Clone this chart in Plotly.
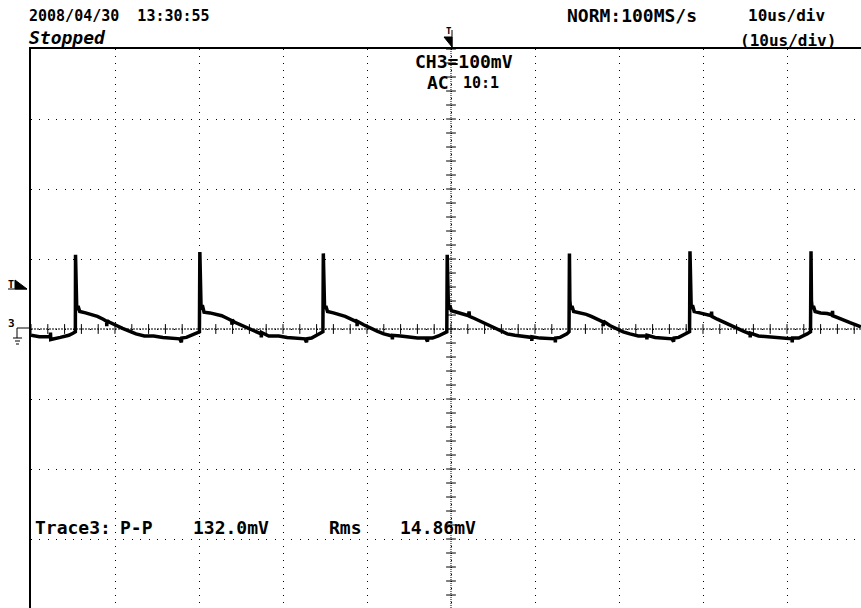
import plotly.graph_objects as go

# ---------------- data ----------------
# Time axis: 10 us/div, trigger point (t = 0) at screen centre
# Vertical: CH3 100 mV/div, ground marker at 0 mV
TIME_US = [
    # lead-in
    -50.00, -49.00, -47.70, -47.68, -47.65, -46.50, -45.50, -45.00, -44.72,
    # cycle 1
    -44.70, -44.65, -44.55, -44.40, -44.20, -43.50, -42.70, -42.10, -41.40, -41.00, -40.98, -40.95,
    -40.70, -39.90, -39.10, -38.30, -37.50, -36.50, -35.40, -34.30, -33.30, -32.30, -32.10, -32.05,
    -31.50, -30.90, -30.40, -29.95,
    # cycle 2
    -29.90, -29.85, -29.75, -29.60, -29.40, -28.70, -27.90, -27.30, -26.60, -26.10, -26.08, -26.05,
    -25.80, -25.00, -24.20, -23.40, -22.60, -22.58, -22.55, -21.70, -20.50, -19.50, -18.50, -17.40,
    -17.20, -17.15, -16.60, -16.10, -15.60, -15.25,
    # cycle 3
    -15.20, -15.15, -15.05, -14.90, -14.70, -14.00, -13.20, -12.60, -11.90, -11.20, -11.18, -11.15,
    -10.40, -9.60, -8.80, -8.00, -7.00, -6.98, -6.95, -6.00, -5.00, -4.00, -3.00, -2.80, -2.75,
    -2.20, -1.50, -1.00, -0.50,
    # cycle 4
    -0.45, -0.40, -0.30, -0.15, 0.05, 0.70, 1.50, 2.10, 2.15, 2.20, 2.80, 3.50, 4.30, 5.10, 5.90,
    6.70, 7.60, 8.60, 9.60, 9.62, 9.65, 10.60, 11.60, 12.40, 12.42, 12.45, 13.00, 13.50, 13.80, 14.05,
    # cycle 5
    14.10, 14.15, 14.25, 14.40, 14.60, 15.30, 16.10, 16.70, 17.40, 18.10, 18.12, 18.15, 18.90, 19.70,
    20.50, 21.30, 22.30, 23.30, 23.32, 23.35, 24.30, 25.30, 26.30, 26.50, 26.55, 27.10, 27.60, 28.10,
    28.40,
    # cycle 6
    28.45, 28.50, 28.60, 28.75, 28.95, 29.60, 30.40, 31.00, 31.02, 31.05, 31.70, 32.40, 33.20, 34.00,
    34.80, 35.60, 35.62, 35.65, 36.60, 37.60, 38.60, 39.60, 40.60, 40.62, 40.65, 41.40, 42.00, 42.40,
    42.80,
    # cycle 7
    42.86, 42.91, 43.00, 43.15, 43.35, 44.00, 44.80, 45.40, 45.42, 45.45, 46.10, 46.80, 47.50, 48.20,
    48.80,
]
TRACE_MV = [
    # lead-in
    -9, -11, -11, -5, -15, -12, -9, -6, -4,
    # cycle 1
    106, 42, 27, 33, 25, 23, 20, 18, 14, 11, 4, 12,
    10, 5, 1, -3, -7, -10, -10, -12, -13, -14, -19, -13,
    -12, -9, -6, -4,
    # cycle 2
    110, 40, 28, 34, 24, 23, 21, 19, 15, 12, 6, 13,
    10, 6, 1, -3, -7, -12, -5, -10, -10, -12, -13, -14,
    -19, -14, -13, -10, -6, -4,
    # cycle 3
    108, 41, 29, 33, 25, 23, 20, 18, 14, 10, 4, 11,
    6, 1, -3, -7, -10, -15, -9, -10, -12, -13, -13, -18, -13,
    -13, -10, -7, -4,
    # cycle 4
    106, 40, 28, 34, 26, 24, 21, 19, 25, 18, 15, 11, 6, 1, -3,
    -7, -9, -10, -12, -17, -11, -13, -14, -14, -19, -13, -12, -9, -7, -4,
    # cycle 5
    108, 41, 28, 33, 25, 23, 21, 18, 14, 10, 4, 11, 5, 0,
    -4, -7, -10, -10, -15, -9, -12, -13, -14, -18, -13, -12, -9, -6,
    -4,
    # cycle 6
    111, 40, 29, 34, 25, 23, 21, 19, 25, 18, 14, 10, 5, 1,
    -3, -7, -12, -6, -10, -11, -12, -13, -14, -19, -13, -13, -10, -7,
    -4,
    # cycle 7
    111, 41, 29, 33, 25, 23, 22, 20, 26, 19, 16, 12, 9, 6,
    3,
]

HEADER_DATE = "2008/04/30  13:30:55"
HEADER_STATE = "Stopped"
HEADER_MODE = "NORM:100MS/s"
HEADER_TDIV = "10us/div"
HEADER_TDIV2 = "(10us/div)"
CH_SCALE = "CH3=100mV"
CH_COUPLING = "AC"
CH_PROBE = "10:1"
MEAS_LABELS = ["Trace3:", "P-P", "132.0mV", "Rms", "14.86mV"]

X_DIV_US = 10      # us per division
Y_DIV_MV = 100     # mV per division
MINOR = 5          # minor ticks per division

# ---------------- geometry ----------------
W, H = 861, 608
L, T, R, B = 31, 49, 0, 0
PW, PH = W - L - R, H - T - B
PX_PER_US = 8.4
PX_PER_MV = 0.7
X_MIN = -5 * X_DIV_US
X_MAX = X_MIN + PW / PX_PER_US
Y_MAX = 4 * Y_DIV_MV
Y_MIN = Y_MAX - PH / PX_PER_MV


def pxx(p):
    return (p - L) / PW


def pxy(p):
    return (H - B - p) / PH


FONT = "DejaVu Sans Mono"

fig = go.Figure()

# minor ticks on the centre axes
n_y = int(round((Y_MAX - Y_MIN) / (Y_DIV_MV / MINOR))) + 1
ytick_vals = [Y_MAX - i * Y_DIV_MV / MINOR for i in range(n_y)]
n_x = int(round((X_MAX - X_MIN) / (X_DIV_US / MINOR))) + 1
xtick_vals = [X_MIN + i * X_DIV_US / MINOR for i in range(n_x)]

fig.add_trace(go.Scatter(
    x=[0] * len(ytick_vals), y=ytick_vals, mode="markers",
    marker=dict(symbol="line-ew", size=7, line=dict(color="black", width=1)),
    hoverinfo="skip", showlegend=False))
fig.add_trace(go.Scatter(
    x=xtick_vals, y=[0] * len(xtick_vals), mode="markers",
    marker=dict(symbol="line-ns", size=7, line=dict(color="black", width=1)),
    hoverinfo="skip", showlegend=False))

# waveform
fig.add_trace(go.Scatter(
    x=TIME_US, y=TRACE_MV, mode="lines",
    line=dict(color="black", width=3.5), showlegend=False))

shapes = [
    # centre axes (dense dotted)
    dict(type="line", xref="x", yref="y", x0=0, x1=0, y0=Y_MIN, y1=Y_MAX,
         line=dict(color="black", width=1, dash="1px,1px"), layer="below"),
    dict(type="line", xref="x", yref="y", x0=X_MIN, x1=X_MAX, y0=0, y1=0,
         line=dict(color="black", width=1, dash="2px,1px"), layer="below"),
    # trigger position marker at top
    dict(type="path", xref="paper", yref="paper",
         path=f"M {pxx(444)},{pxy(37)} L {pxx(452)},{pxy(37)} L {pxx(452)},{pxy(47)} Z",
         fillcolor="black", line=dict(color="black", width=1)),
    dict(type="line", xref="paper", yref="paper", x0=pxx(452), x1=pxx(452),
         y0=pxy(30), y1=pxy(48), line=dict(color="black", width=1)),
    # trigger level marker on left
    dict(type="path", xref="paper", yref="paper",
         path=f"M {pxx(15)},{pxy(280)} L {pxx(15)},{pxy(289)} L {pxx(27)},{pxy(289)} Z",
         fillcolor="black", line=dict(color="black", width=1)),
    dict(type="line", xref="paper", yref="paper", x0=pxx(8), x1=pxx(27),
         y0=pxy(289), y1=pxy(289), line=dict(color="black", width=1)),
    # ground marker
    dict(type="line", xref="paper", yref="paper", x0=pxx(17), x1=pxx(30),
         y0=pxy(328), y1=pxy(328), line=dict(color="black", width=1)),
    dict(type="line", xref="paper", yref="paper", x0=pxx(17), x1=pxx(17),
         y0=pxy(328), y1=pxy(338), line=dict(color="black", width=1)),
    dict(type="line", xref="paper", yref="paper", x0=pxx(13), x1=pxx(22),
         y0=pxy(338), y1=pxy(338), line=dict(color="black", width=1)),
    dict(type="line", xref="paper", yref="paper", x0=pxx(15), x1=pxx(20),
         y0=pxy(341), y1=pxy(341), line=dict(color="black", width=1)),
    dict(type="line", xref="paper", yref="paper", x0=pxx(16), x1=pxx(19),
         y0=pxy(344), y1=pxy(344), line=dict(color="black", width=1)),
]


def ann(text, x, y, size, italic=False, bold=True):
    return dict(text=text, xref="paper", yref="paper", x=pxx(x), y=pxy(y),
                xanchor="left", yanchor="middle", showarrow=False,
                font=dict(family=FONT, size=size, color="black",
                          weight="bold" if bold else "normal",
                          style="italic" if italic else "normal"))


annotations = [
    ann(HEADER_DATE, 27, 16, 15),
    ann(HEADER_STATE, 27, 38, 18, italic=True),
    ann(HEADER_MODE, 565, 16, 18),
    ann(HEADER_TDIV, 746, 16, 16),
    ann(HEADER_TDIV2, 738, 40, 16),
    ann("T", 444, 31, 9),
    ann(CH_SCALE, 413, 61, 18),
    ann(CH_COUPLING, 425, 83, 18),
    ann(CH_PROBE, 461, 83, 15),
    ann("T", 6, 284, 10),
    ann("3", 6, 323, 11),
    ann(MEAS_LABELS[0], 33, 527, 18),
    ann(MEAS_LABELS[1], 118, 527, 18),
    ann(MEAS_LABELS[2], 191, 527, 18),
    ann(MEAS_LABELS[3], 327, 527, 18),
    ann(MEAS_LABELS[4], 398, 527, 18),
]

fig.update_layout(
    width=W, height=H,
    margin=dict(l=L, r=R, t=T, b=B, pad=0),
    paper_bgcolor="white", plot_bgcolor="white",
    showlegend=False,
    shapes=shapes, annotations=annotations,
    xaxis=dict(range=[X_MIN, X_MAX], tick0=X_MIN, dtick=X_DIV_US,
               showgrid=True, gridcolor="black", gridwidth=1, griddash="1px,6px",
               showticklabels=False, ticks="", zeroline=False,
               showline=True, linecolor="black", linewidth=2, side="top",
               fixedrange=True),
    yaxis=dict(range=[Y_MIN, Y_MAX], tick0=0, dtick=Y_DIV_MV,
               showgrid=True, gridcolor="black", gridwidth=1, griddash="1px,7.4px",
               showticklabels=False, ticks="", zeroline=False,
               showline=True, linecolor="black", linewidth=2,
               fixedrange=True),
)

fig.write_html(
    "out.html",
    config={"displayModeBar": False},
    post_script="document.body.style.margin='0';document.body.style.overflow='hidden';",
)
